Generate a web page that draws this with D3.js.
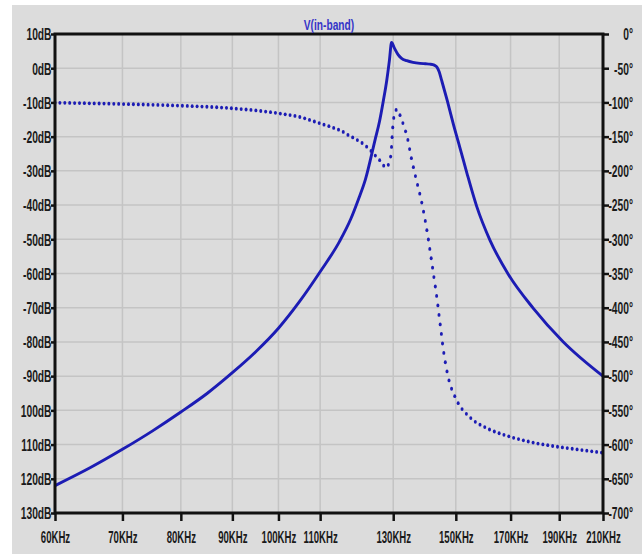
<!DOCTYPE html>
<html>
<head>
<meta charset="utf-8">
<script src="https://cdn.jsdelivr.net/npm/d3@7"></script>
<style>
  body { margin: 0; background: #fff; }
  text { font-family: "Liberation Sans", Arial, sans-serif; font-weight: bold; }
</style>
</head>
<body>
<script>
// magnitude trace (KHz / dB)
const magFreq = [60, 65, 70, 75, 80, 85, 90, 95, 100, 105, 110, 115, 118, 120, 122, 124.7, 126, 127.1, 128.1, 128.9, 129.5, 130.4, 131.5, 132.5, 134.1, 136, 138.2, 140, 141.4, 142.8, 143.6, 144.4, 145.2, 147.1, 149.2, 151.5, 153.8, 157.3, 162.2, 169.1, 179, 191.8, 210];
const magDb = [-122, -116.8, -111.4, -106, -100.5, -95, -89, -82.8, -76, -68.1, -59.5, -50.6, -44, -38.5, -32.5, -21, -15.5, -9.5, -3.5, 2.5, 7.5, 5.8, 3.9, 2.9, 2.2, 1.7, 1.4, 1.3, 1.2, 0.9, 0.4, -1, -3.5, -9.5, -16.5, -23.5, -30.5, -40.3, -50.3, -60.2, -70.1, -80, -90];

// phase trace (KHz / degrees)
const phFreq = [60, 70, 80, 90, 100, 105, 110, 113, 115.6, 117.3, 119.6, 121.5, 122.8, 123.8, 125.2, 126.5, 127.6, 128.4, 129, 129.5, 129.8, 130.2, 130.8, 131.5, 132.3, 133.3, 134.2, 135.4, 136.1, 137, 138.7, 140.3, 141.4, 142.5, 143.6, 144.7, 145.8, 147.4, 150.3, 154.9, 161, 168.5, 173.7, 180.3, 187.4, 196.4, 210];
const phDeg = [-100.4, -102.3, -104.8, -108.6, -115.9, -121.3, -130.7, -136.3, -142, -147.7, -154.4, -161, -167, -172, -180, -187, -194, -192, -186, -165, -140, -121, -111, -113, -122, -136, -150, -179, -194, -212, -245, -284, -316, -350, -384, -423, -462, -501, -535, -560, -576, -587, -592.6, -598, -602.2, -606.4, -612];

const freqTicks = [60, 70, 80, 90, 100, 110, 130, 150, 170, 190, 210];
const freqLabels = ["60KHz", "70KHz", "80KHz", "90KHz", "100KHz", "110KHz", "130KHz", "150KHz", "170KHz", "190KHz", "210KHz"];
const dbTicks = [10, 0, -10, -20, -30, -40, -50, -60, -70, -80, -90, -100, -110, -120, -130];
const dbLabels = ["10dB", "0dB", "-10dB", "-20dB", "-30dB", "-40dB", "-50dB", "-60dB", "-70dB", "-80dB", "-90dB", "100dB", "110dB", "120dB", "130dB"];
const degTicks = [0, -50, -100, -150, -200, -250, -300, -350, -400, -450, -500, -550, -600, -650, -700];
const degLabels = ["0°", "-50°", "-100°", "-150°", "-200°", "-250°", "-300°", "-350°", "-400°", "-450°", "-500°", "-550°", "-600°", "-650°", "-700°"];

const W = 642, H = 556;
const plotL = 55, plotR = 603, plotT = 34, plotB = 513;
const blue = "#1c1cb4";
const sx = 0.64; // labels are tall and narrow

const svg = d3.select("body").append("svg")
  .attr("width", W)
  .attr("height", H);

svg.append("rect")
  .attr("x", 12).attr("y", 5)
  .attr("width", W - 12).attr("height", 549)
  .attr("fill", "#dcdcdc");

const x = d3.scaleLog().domain([60, 210]).range([plotL, plotR]);
const yDb = d3.scaleLinear().domain([-130, 10]).range([plotB, plotT]);
const yDeg = d3.scaleLinear().domain([-700, 0]).range([plotB, plotT]);

// grid
svg.append("g")
  .selectAll("line")
  .data(freqTicks.slice(1, -1))
  .enter().append("line")
  .attr("x1", d => x(d)).attr("x2", d => x(d))
  .attr("y1", plotT).attr("y2", plotB)
  .attr("stroke", "#c4c4c4").attr("stroke-width", 1.5);

svg.append("g")
  .selectAll("line")
  .data(dbTicks.slice(1, -1))
  .enter().append("line")
  .attr("x1", plotL).attr("x2", plotR)
  .attr("y1", d => yDb(d)).attr("y2", d => yDb(d))
  .attr("stroke", "#c4c4c4").attr("stroke-width", 1.5);

// magnitude
const magData = magFreq.map((f, i) => ({ f: f, v: magDb[i] }));
svg.append("path")
  .datum(magData)
  .attr("fill", "none")
  .attr("stroke", blue)
  .attr("stroke-width", 2.9)
  .attr("stroke-linejoin", "round")
  .attr("d", d3.line().x(d => x(d.f)).y(d => yDb(d.v)).curve(d3.curveMonotoneX));

// phase, drawn as dots: x stretched by 2 so spacing is tighter horizontally
const phData = phFreq.map((f, i) => ({ f: f, v: phDeg[i] }));
const tmp = svg.append("path")
  .datum(phData)
  .attr("fill", "none")
  .attr("d", d3.line().x(d => 2 * x(d.f)).y(d => yDeg(d.v)).curve(d3.curveMonotoneX));
const node = tmp.node();
const len = node.getTotalLength();
const dots = [];
for (let s = 0; s <= len; s += 9.8) {
  const p = node.getPointAtLength(s);
  dots.push([p.x / 2, p.y]);
}
tmp.remove();

svg.append("g")
  .selectAll("ellipse")
  .data(dots)
  .enter().append("ellipse")
  .attr("cx", d => d[0]).attr("cy", d => d[1])
  .attr("rx", 1.5).attr("ry", 1.9)
  .attr("fill", blue);

// axes
const yAxisL = d3.axisLeft(yDb)
  .tickValues(dbTicks)
  .tickFormat((d, i) => dbLabels[i])
  .tickSize(4)
  .tickPadding(0);

const yAxisR = d3.axisRight(yDeg)
  .tickValues(degTicks)
  .tickFormat((d, i) => degLabels[i])
  .tickSize(6)
  .tickPadding(0);

const xAxis = d3.axisBottom(x)
  .tickValues(freqTicks)
  .tickFormat((d, i) => freqLabels[i])
  .tickSize(8)
  .tickPadding(0);

function styleAxis(g) {
  g.select(".domain").remove();
  g.selectAll(".tick line").attr("stroke", "#111").attr("stroke-width", 2.5);
  g.selectAll("text").attr("fill", "#1a1a1a").style("font-size", "16px");
}

const gl = svg.append("g")
  .attr("transform", "translate(" + plotL + ",0)")
  .call(yAxisL)
  .call(styleAxis);
gl.selectAll("text")
  .attr("x", 0).attr("dy", null).attr("y", 5.8)
  .attr("transform", "translate(-3.5,0) scale(" + sx + ",1)");

const gr = svg.append("g")
  .attr("transform", "translate(" + plotR + ",0)")
  .call(yAxisR)
  .call(styleAxis);
gr.selectAll("text")
  .attr("x", 0).attr("dy", null).attr("y", 5.8)
  .attr("text-anchor", "end")
  .attr("transform", "translate(30,0) scale(" + sx + ",1)");

const gb = svg.append("g")
  .attr("transform", "translate(0," + plotB + ")")
  .call(xAxis)
  .call(styleAxis);
gb.selectAll("text")
  .attr("dy", null).attr("y", 0)
  .attr("transform", "translate(0,29.5) scale(0.6,1)");

// frame
svg.append("path")
  .attr("d", "M" + plotL + "," + plotB + "V" + plotT + "H" + plotR + "V" + plotB + "Z")
  .attr("fill", "none")
  .attr("stroke", "#111")
  .attr("stroke-width", 3);

// title
svg.append("text")
  .attr("transform", "translate(329,30) scale(0.68,1)")
  .attr("text-anchor", "middle")
  .attr("fill", "#3434c8")
  .style("font-size", "15px")
  .text("V(in-band)");
</script>
</body>
</html>
